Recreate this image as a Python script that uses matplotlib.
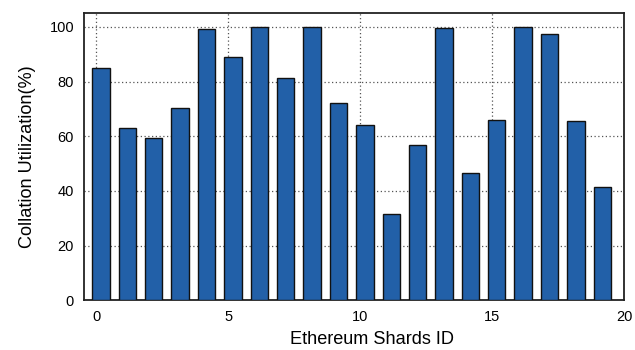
import matplotlib
matplotlib.use('Agg')
import matplotlib.pyplot as plt

# Collation utilization for each Ethereum shard
shard_ids = list(range(20))
utilization = [85.0, 63.0, 59.3, 70.2, 99.4, 89.0, 100.0, 81.2, 100.0, 72.3,
               64.0, 31.7, 56.8, 99.7, 46.7, 65.8, 100.0, 97.4, 65.6, 41.5]
x_ticks = [0, 5, 10, 15, 20]
y_ticks = [0, 20, 40, 60, 80, 100]

plt.rcParams['font.family'] = ['Liberation Sans', 'DejaVu Sans']


def main():
    fig = plt.figure(figsize=(6.35, 3.5), dpi=100)
    ax = fig.add_axes([0.132, 0.142, 0.851, 0.820])

    ax.bar([i + 0.17 for i in shard_ids], utilization, width=0.66,
           color='#2260a8', edgecolor='#111111', linewidth=1.0, zorder=3)

    ax.set_xlim(-0.48, 20)
    ax.set_ylim(0, 105)
    ax.set_xticks(x_ticks)
    ax.set_yticks(y_ticks)
    ax.tick_params(length=0, labelsize=10.5, pad=7)
    ax.grid(True, linestyle=(0, (1, 2)), color='#555555', linewidth=0.9, zorder=0)

    for side in ax.spines.values():
        side.set_linewidth(1.3)
        side.set_color('#222222')

    ax.set_xlabel('Ethereum Shards ID', fontsize=13.1)
    ax.xaxis.set_label_coords(0.533, -0.108)
    ax.set_ylabel('Collation Utilization(%)', fontsize=13.1, labelpad=10)

    fig.savefig('out.png', dpi=100)


if __name__ == '__main__':
    main()
